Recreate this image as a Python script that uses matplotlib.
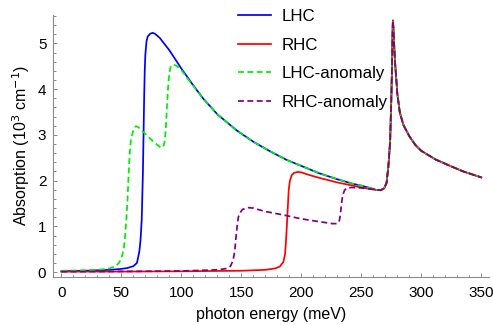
import matplotlib
matplotlib.use("Agg")
import matplotlib.pyplot as plt
from matplotlib.ticker import MultipleLocator

plt.rcParams['font.family'] = ['Liberation Sans', 'DejaVu Sans']

# shared tail (all curves coincide here)
tail_x = [262, 266, 269, 271, 272.5, 274, 275, 275.5, 276, 276.3, 276.7, 277.3, 278, 280, 282, 285, 290, 295, 300, 312, 325, 335, 350]
tail_y = [1.80, 1.79, 1.83, 1.95, 2.30, 2.85, 3.80, 4.40, 5.20, 5.50, 5.35, 5.00, 4.63, 3.90, 3.50, 3.22, 2.97, 2.78, 2.65, 2.46, 2.31, 2.20, 2.07]

# LHC
lhc_x = [0, 10, 20, 30, 40, 50, 55, 60, 63, 65, 66, 67, 68, 68.5, 69, 69.5, 70, 71, 72, 74, 76, 78, 82, 90, 100,
         110, 118, 130, 146, 160, 174, 188, 202, 215, 230, 243, 250, 257]
lhc_y = [0.02, 0.025, 0.03, 0.04, 0.05, 0.07, 0.09, 0.13, 0.2, 0.45, 0.7, 1.15, 2.2, 3.0, 3.8, 4.4, 4.75, 5.05, 5.15, 5.21, 5.23, 5.21, 5.12, 4.85, 4.45,
         4.08, 3.80, 3.45, 3.10, 2.85, 2.64, 2.45, 2.30, 2.16, 2.03, 1.93, 1.89, 1.84]

# RHC
rhc_x = [0, 50, 100, 150, 170, 178, 182, 185, 186.5, 187.5, 188.5, 189.5, 190.5, 192, 194, 197, 200, 207, 215, 221, 230, 243, 250, 257]
rhc_y = [0.01, 0.012, 0.018, 0.03, 0.05, 0.08, 0.12, 0.22, 0.4, 0.8, 1.3, 1.8, 2.0, 2.12, 2.17, 2.19, 2.18, 2.12, 2.06, 2.02, 1.96, 1.89, 1.85, 1.82]

# LHC-anomaly
lhca_x = [0, 10, 20, 30, 40, 45, 48, 50, 52, 53, 54, 55, 56, 57, 58, 60, 62, 64, 68, 72, 76, 80, 83, 85, 86, 87, 88, 89, 90, 91, 93, 96, 100, 105,
          110, 118, 130, 146, 160, 174, 188, 202, 215, 230, 243, 250, 257]
lhca_y = [0.03, 0.035, 0.04, 0.05, 0.08, 0.13, 0.2, 0.3, 0.5, 0.75, 1.1, 1.5, 2.1, 2.6, 2.9, 3.1, 3.19, 3.17, 3.07, 2.97, 2.87, 2.78, 2.72, 2.74, 2.85, 3.1, 3.6, 4.05, 4.35, 4.48, 4.54, 4.51, 4.42, 4.24,
          4.07, 3.80, 3.45, 3.10, 2.85, 2.64, 2.45, 2.30, 2.16, 2.03, 1.93, 1.89, 1.84]

# RHC-anomaly
rhca_x = [0, 50, 100, 130, 138, 141, 143, 144.5, 145.5, 146.5, 147.5, 149, 151, 155, 160, 165, 171, 185, 199, 213, 226, 229.5, 231.5, 232.5, 233.5, 234.5, 236, 238, 242, 250, 257]
rhca_y = [0.01, 0.015, 0.025, 0.05, 0.08, 0.13, 0.25, 0.45, 0.75, 1.0, 1.2, 1.3, 1.37, 1.41, 1.40, 1.36, 1.32, 1.25, 1.17, 1.11, 1.06, 1.06, 1.1, 1.25, 1.5, 1.68, 1.79, 1.84, 1.85, 1.84, 1.82]

labels = ['LHC', 'RHC', 'LHC-anomaly', 'RHC-anomaly']
colors = ['#0000ff', '#ff0000', '#00ee00', '#800080']

fig = plt.figure(figsize=(4.93, 3.25), dpi=100)
ax = fig.add_axes([53.3/493, 1-276.7/325, (489-53.3)/493, (276.7-15)/325])

series = [(lhc_x, lhc_y), (rhc_x, rhc_y), (lhca_x, lhca_y), (rhca_x, rhca_y)]
styles = ['-', '-', (0, (3.4, 2.0)), (0, (3.4, 2.0))]
for (xs, ys), lab, c, ls in zip(series, labels, colors, styles):
    ax.plot(list(xs) + tail_x, list(ys) + tail_y, color=c, lw=1.25, ls=ls, label=lab)

ax.set_xlim(-6.7, 356.4)
ax.set_ylim(-0.10, 5.62)
ax.xaxis.set_major_locator(MultipleLocator(50))
ax.xaxis.set_minor_locator(MultipleLocator(10))
ax.yaxis.set_major_locator(MultipleLocator(1))
ax.yaxis.set_minor_locator(MultipleLocator(0.2))

gray = '#8c8c8c'
for s in ['top', 'right']:
    ax.spines[s].set_visible(False)
for s in ['left', 'bottom']:
    ax.spines[s].set_color(gray)
    ax.spines[s].set_linewidth(0.8)
ax.tick_params(which='both', direction='in', color=gray, labelsize=11, width=0.7)
ax.tick_params(which='major', length=3)
ax.tick_params(which='minor', length=1.8)
ax.tick_params(axis='x', pad=6.5)
ax.tick_params(axis='y', pad=5)

ax.set_xlabel('photon energy (meV)', fontsize=11.5, labelpad=5)
ax.set_ylabel('Absorption (10$^3$ cm$^{-1}$)', fontsize=11.5, labelpad=4)

leg = ax.legend(loc='upper left', bbox_to_anchor=(238/493, 1-9/325), bbox_transform=fig.transFigure,
                frameon=False, fontsize=12.2, borderpad=0, borderaxespad=0,
                handlelength=1.95, handletextpad=0.6, labelspacing=0.8)

fig.savefig('out.png', dpi=100)
